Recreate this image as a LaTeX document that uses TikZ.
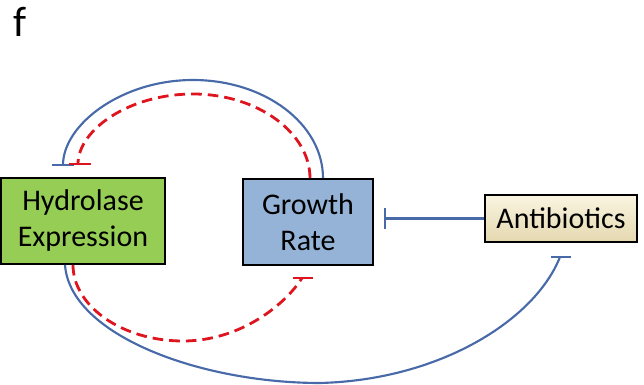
\documentclass[tikz,border=0pt]{standalone}
\usepackage{fontspec}
\setmainfont{Carlito}
\usetikzlibrary{arrows.meta,calc}
\definecolor{hgreen}{RGB}{150,205,85}
\definecolor{gblue}{RGB}{149,179,215}
\definecolor{lblue}{RGB}{72,106,168}
\definecolor{lred}{RGB}{222,20,30}
\definecolor{abtop}{RGB}{250,245,225}
\definecolor{abbot}{RGB}{228,216,175}
\tikzset{
  box/.style={draw=black, line width=1.3pt, rectangle, inner sep=0pt, align=center,
    font=\fontsize{22.5}{27}\selectfont},
  blueline/.style={draw=lblue, line width=1.6pt},
  redline/.style={draw=lred, line width=2.1pt, dash pattern=on 8pt off 4.5pt},
  redbar/.style={draw=lred, line width=2.1pt},
}
\begin{document}
\begin{tikzpicture}[x=0.75pt,y=-0.75pt]
\useasboundingbox (0,0) rectangle (644,385);

\node[anchor=base, font=\fontsize{32}{34}\selectfont] (lab) at (20,37) {f};

\node[box, fill=hgreen, minimum width=123pt, minimum height=64.5pt] (hy) at (83,221) {Hydrolase\\Expression};
\node[box, fill=gblue, minimum width=97.5pt, minimum height=64.5pt] (gr) at (308,222) {Growth\\Rate};
\node[box, top color=abtop, bottom color=abbot, minimum width=114pt, minimum height=35.25pt] (ab) at (561,218.5) {Antibiotics};

\coordinate (tb1) at (63,165);
\coordinate (tr1) at (78,164);
\coordinate (br1) at (302,278);
\coordinate (bb1) at (560,257);

% blue top arc: growth rate -| hydrolase
\draw[blueline] ($(gr.north)+(15,0)$) .. controls (323,124) and (265,80) .. (193,80)
  .. controls (121,80) and (63,125) .. (tb1);
\draw[blueline, line width=1.2pt] ($(tb1)+(-11,0)$) -- ($(tb1)+(11,0)$);

% red dashed top arc
\draw[redline] ($(gr.north)+(2,0)$) .. controls (310,133) and (258,94) .. (193,94)
  .. controls (129,94) and (78,130) .. (tr1);
\draw[redbar] ($(tr1)+(-9,0)$) -- ($(tr1)+(13,0)$);

% red dashed bottom arc
\draw[redline] ($(hy.south)+(-10,0)$) .. controls (73,306) and (122,341) .. (183,341)
  .. controls (240,341) and (285,305) .. (br1);
\draw[redbar] ($(br1)+(-9,0)$) -- ($(br1)+(11,0)$);

% blue bottom long arc
\draw[blueline] ($(hy.south)+(-18,0)$) .. controls (70,335) and (200,383) .. (320,383)
  .. controls (440,380) and (535,320) .. (bb1);
\draw[blueline] ($(bb1)+(-9,0)$) -- ($(bb1)+(11,0)$);

% antibiotics -| growth rate
\draw[blueline, -{Bar[width=15.75pt, line width=1.6pt]}] (ab.west) -- ($(gr.east)+(10,-3.5)$);
\end{tikzpicture}
\end{document}
